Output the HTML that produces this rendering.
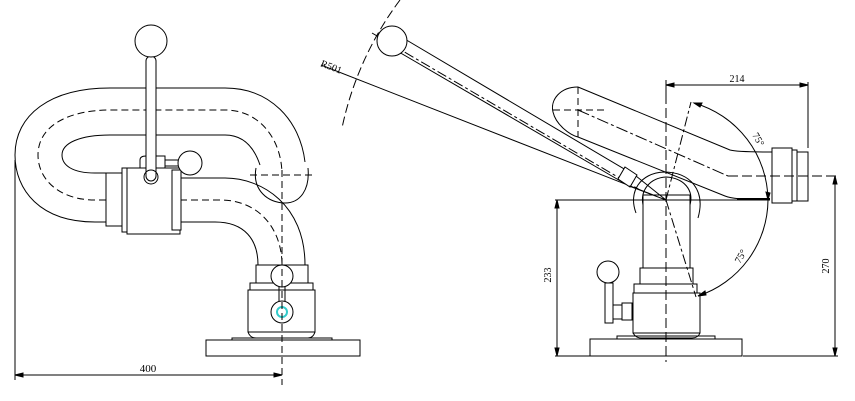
<!DOCTYPE html>
<html><head><style>body{margin:0;background:#fff}svg{display:block}</style></head><body>
<svg width="855" height="401" viewBox="0 0 855 401" xmlns="http://www.w3.org/2000/svg" fill="none" stroke="#000" stroke-width="1" font-family="Liberation Serif, serif">
<rect width="855" height="401" fill="#fff" stroke="none"/>
<!-- LEFT VIEW -->
<g>
<!-- pipe loop -->
<path d="M106,222 H95 C40,222 15,190 15,155 C15,115 50,88 110,88 H225 C270,88 300,120 305,162"/>
<path d="M106,173 H95 C72,173 62,165 62,155 C62,143 80,135 110,135 H225 C245,135 255,150 260,165"/>
<path d="M106,200 H95 C60,200 38,180 38,155 C38,125 70,110 110,110 H225 C260,110 282,140 282,175" stroke-dasharray="7,4"/>
<path d="M180,178 H225 C262,178 305,205 305,265"/>
<path d="M180,222 H215 C245,222 258,240 258,265"/>
<path d="M180,200 H220 C260,200 282,230 282,265" stroke-dasharray="7,4"/>
<path d="M256,168 C252,190 268,203 285,203 C300,203 310,190 308,168"/>
<path d="M250,175 H316" stroke-dasharray="7,4"/>
<!-- valve block -->
<rect x="106" y="173" width="16" height="53" fill="#fff"/>
<rect x="122" y="168" width="6" height="64" fill="#fff"/>
<rect x="127" y="168" width="53" height="66" fill="#fff"/>
<rect x="172" y="170" width="9" height="60" fill="#fff"/>
<path d="M140,168 V160 Q140,156 146,156 H165 V168"/>
<rect x="165" y="160" width="14" height="6"/>
<circle cx="190" cy="163" r="12" fill="#fff"/>
<!-- handle -->
<rect x="146" y="56" width="10" height="125" rx="5" fill="#fff"/>
<circle cx="151" cy="177" r="7"/>
<circle cx="151" cy="41" r="16" fill="#fff"/>
<!-- base -->
<rect x="256" y="265" width="52" height="18" fill="#fff"/>
<rect x="250" y="283" width="63" height="7" fill="#fff"/>
<rect x="248" y="290" width="67" height="42" fill="#fff"/>
<path d="M248,332 Q250,338 256,338 H308 Q313,338 315,332"/>
<path d="M232,340 V338 H332 V340"/>
<rect x="206" y="340" width="154" height="16" fill="#fff"/>
<rect x="279" y="285" width="6" height="20"/>
<circle cx="282" cy="276" r="11" fill="#fff"/>
<circle cx="282" cy="312" r="11" fill="#fff"/>
<circle cx="282" cy="312" r="5" stroke="#3cc" stroke-width="2"/>
<path d="M282,170 V385" stroke-dasharray="7,4"/>
<!-- dim 400 -->
<path d="M15,160 V380 M15,375 H282"/>
<path d="M15,375 l8,-2 v4 z M282,375 l-8,-2 v4 z" fill="#000"/>
<text x="148" y="372" font-size="11" fill="#000" stroke="none" text-anchor="middle">400</text>
</g>
<!-- RIGHT VIEW -->
<g>
<!-- R501 arc -->
<path d="M400,0 A325,325 0 0 0 342,128" stroke-dasharray="9,4"/>
<path d="M321,65 L666,200"/>
<text x="320" y="66" font-size="10" fill="#000" stroke="none" transform="rotate(21 320 66)">R501</text>
<!-- nozzle pipe -->
<path d="M578,87 C560,87 550,100 553,112 C556,125 570,135 578,137 L725,196 Q735,200 770,200"/>
<path d="M578,87 L730,150 Q737,152 772,152"/>
<path d="M553,110 H605 M578,87 V137" stroke-dasharray="7,4"/>
<path d="M578,110 L728,176" stroke-dasharray="12,3,3,3"/>
<path d="M737,199 H770" stroke-width="2"/>
<rect x="772" y="148" width="20" height="55" fill="#fff"/>
<rect x="792" y="150" width="5" height="51" fill="#fff"/>
<rect x="797" y="152" width="11" height="49" fill="#fff"/>
<path d="M728,176 H838" stroke-dasharray="10,4"/>
<!-- column -->
<rect x="643" y="195" width="47" height="73" fill="#fff"/>
<path d="M636,213 C628,192 640,173 664,172 C690,172 706,190 698,218"/>
<path d="M643,205 C640,190 650,178 666,177 C684,178 694,190 690,205"/>
<rect x="640" y="268" width="53" height="16" fill="#fff"/>
<rect x="634" y="284" width="63" height="9" fill="#fff"/>
<rect x="633" y="293" width="67" height="40" fill="#fff"/>
<path d="M633,333 Q636,338 641,338 H692 Q698,338 700,333"/>
<path d="M617,339 V336 H715 V339"/>
<rect x="590" y="339" width="152" height="17" fill="#fff"/>
<!-- small valve -->
<rect x="605" y="283" width="8" height="40" fill="#fff"/>
<rect x="613" y="305" width="9" height="14"/>
<rect x="622" y="303" width="10" height="17"/>
<circle cx="608" cy="272" r="11" fill="#fff"/>
<!-- handle -->
<path d="M398,35 L636,176 M392,48 L629,186"/>
<path d="M372,33 L640,190" stroke-dasharray="10,3,3,3"/>
<path d="M625,167 L637,175 L630,187 L618,179 Z" fill="#fff"/>
<circle cx="392" cy="41" r="15" fill="#fff"/>
<path d="M629,186 L666,200 M636,176 L666,200"/>
<!-- centerlines -->
<path d="M666,80 V362" stroke-dasharray="10,4"/>
<path d="M555,200 H770"/>
<!-- 75 deg -->
<path d="M666,200 L691,102 M666,200 L696,297" stroke-dasharray="10,3,3,3"/>
<path d="M694,103 A102,102 0 0 1 768,200 A102,102 0 0 1 698,296"/>
<path d="M694,103 l8,0 l-2,4 z M768,200 l-2,-8 l4,1 z M698,296 l7,-5 l1,4 z" fill="#000"/>
<text x="752" y="135" font-size="10" fill="#000" stroke="none" transform="rotate(60 752 135)">75°</text>
<text x="740" y="264" font-size="10" fill="#000" stroke="none" transform="rotate(-60 740 264)">75°</text>
<!-- dim 214 -->
<path d="M666,80 V100 M808,82 V148 M666,85 H808"/>
<path d="M666,85 l8,-2 v4 z M808,85 l-8,-2 v4 z" fill="#000"/>
<text x="737" y="82" font-size="10" fill="#000" stroke="none" text-anchor="middle">214</text>
<!-- dim 233 -->
<path d="M557,200 V356 M555,356 H590"/>
<path d="M557,200 l-2,8 h4 z M557,356 l-2,-8 h4 z" fill="#000"/>
<text x="551" y="275" font-size="10" fill="#000" stroke="none" text-anchor="middle" transform="rotate(-90 551 275)">233</text>
<!-- dim 270 -->
<path d="M835,176 V356 M743,356 H838"/>
<path d="M835,176 l-2,8 h4 z M835,356 l-2,-8 h4 z" fill="#000"/>
<text x="829" y="266" font-size="10" fill="#000" stroke="none" text-anchor="middle" transform="rotate(-90 829 266)">270</text>
</g>
</svg>
</body></html>
